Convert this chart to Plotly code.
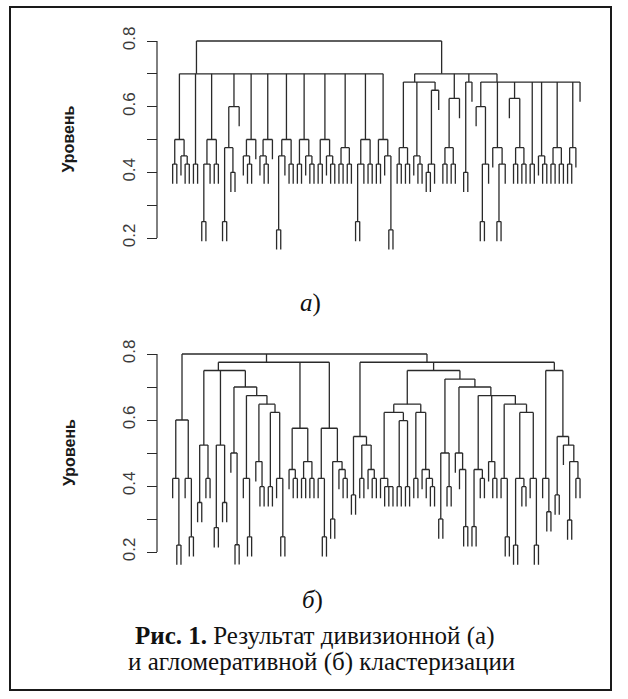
import itertools
import plotly.graph_objects as go

L = 0  # leaf marker; a node is [merge height, child, child, ...]

# ---------------- (а) divisive clustering ----------------
A1 = [0.5, [0.425, L, L], [0.45, L, [0.425, L, L]]]
A2 = [0.425, L, L]
A3 = [0.5, [0.425, [0.25, L, L], L], [0.425, L, L]]
A4 = [0.6, [0.475, [0.25, L, L], [0.4, L, L]], L]
A5 = [0.5, [0.45, L, [0.425, L, L]], L]
A6 = [0.5, [0.45, L, [0.425, L, L]], L]
A7 = [0.5, [0.45, [0.225, L, L], L], [0.425, L, L]]
A8 = [0.5, [0.425, L, L], [0.45, L, [0.425, L, L]]]
A9 = [0.5, [0.425, L, L], [0.45, L, [0.425, L, L]]]
A10 = [0.475, [0.425, L, L], [0.425, L, L]]
A11 = [0.5, [0.425, [0.25, L, L], L], [0.425, L, L]]
A12 = [0.5, [0.425, L, L], [0.45, L, [0.225, L, L]]]
B1 = [0.475, [0.425, L, L], [0.425, L, L]]
B2 = [0.45, L, [0.425, L, L]]
B3 = [0.65, [0.425, [0.4, L, L], L], L]
C1 = [0.625, [0.475, [0.425, L, L], [0.425, L, L]], L]
C2 = [0.675, [0.4, L, L], L]
D1 = [0.6, L, [0.425, [0.25, L, L], L]]
D2 = [0.475, L, [0.425, [0.25, L, L], L]]
D3 = [0.625, L, [0.475, [0.425, L, L], [0.425, L, L]]]
D4 = [0.425, L, L]
D5 = [0.45, L, [0.425, L, L]]
D6 = [0.475, [0.425, L, L], [0.425, L, L]]
D7 = [0.475, [0.425, L, L], L]
D8 = L
GROUP_A_LEFT = [0.7, A1, A2, A3, A4, A5, A6, A7, A8, A9, A10, A11, A12]
GROUP_B = [0.675, B1, B2, B3]
GROUP_D = [0.675, D1, D2, D3, D4, D5, D6, D7, D8]
GROUP_A_RIGHT = [0.7, GROUP_B, C1, C2, GROUP_D]
TREE_A = [0.8, GROUP_A_LEFT, GROUP_A_RIGHT]

# ---------------- (б) agglomerative clustering ----------------
E1 = [0.6, [0.423, L, [0.221, L, L]], [0.423, L, [0.246, L, L]]]
F1 = [0.524, [0.35, L, L], [0.423, L, L]]
F2 = [0.524, [0.274, L, L], [0.35, L, L]]
F3 = [0.7, [0.5, L, [0.222, L, L]],
      [0.674, [0.423, L, [0.246, L, L]],
       [0.648, [0.474, L, [0.398, L, L]],
        [0.623, [0.398, L, L], [0.423, L, [0.246, L, L]]]]]]
F = [0.75, F1, F2, F3]
G = [0.575, [0.45, L, [0.423, L, L]], [0.474, [0.423, L, L], [0.423, L, L]]]
H = [0.575, [0.423, L, [0.246, L, L]], [0.474, [0.30, L, L], [0.45, L, [0.423, L, L]]]]
X = [0.775, F, G, H]
P = [0.55, [0.373, L, L], [0.524, [0.423, L, L], [0.45, L, [0.423, L, L]]]]
Q1A = [0.623, [0.423, L, [0.398, L, L, L]], [0.598, [0.398, L, L], [0.398, L, L]]]
Q1B = [0.623, [0.423, L, L], [0.45, L, [0.423, L, [0.398, L, L]]]]
Q1 = [0.648, Q1A, Q1B]
Q2A = [0.5, [0.30, L, L], [0.398, L, L]]
Q2B_L = [0.5, L, [0.45, L, [0.277, L, L]]]
K1 = [0.45, [0.277, L, L], [0.423, L, L]]
K2 = [0.474, L, [0.423, L, L]]
K3 = [0.648, [0.423, L, [0.246, L, L]],
      [0.623, [0.423, [0.221, L, L], [0.398, L, L]], [0.423, L, [0.221, L, L]]]]
Q2B = [0.7, Q2B_L, [0.674, K1, K2, K3]]
Q2 = [0.724, Q2A, Q2B]
Q = [0.75, Q1, Q2]
R = [0.75, [0.423, L, [0.322, L, L]],
     [0.55, [0.373, L, L], [0.524, L, [0.474, [0.297, L, L], [0.423, L, L]]]]]
Y = [0.775, P, Q, R]
TREE_B = [0.8, E1, X, Y]

TICKS = [0.2, 0.3, 0.4, 0.5, 0.6, 0.7, 0.8]
TICK_LABELS = ["0.2", "", "0.4", "", "0.6", "", "0.8"]
HANG = 0.06

W, HGT = 628, 699
LINE = "#2a2a2a"


def place(node, seq, xs, ys):
    if not isinstance(node, list):
        return next(seq), None
    h, kids = node[0], node[1:]
    cx = []
    for k in kids:
        kx, ktop = place(k, seq, xs, ys)
        bottom = ktop if ktop is not None else h - HANG
        xs += [kx, kx, None]
        ys += [bottom, h, None]
        cx.append(kx)
    xs += [cx[0], cx[-1], None]
    ys += [h, h, None]
    pos = cx[-1]
    for xi in reversed(cx[:-1]):
        pos = (xi + pos) / 2
    return pos, h


def segments(tree):
    xs, ys = [], []
    place(tree, itertools.count(1), xs, ys)
    return xs, ys


fig = go.Figure()
for tree, xa, ya in [(TREE_A, "x", "y"), (TREE_B, "x2", "y2")]:
    sx, sy = segments(tree)
    fig.add_trace(go.Scatter(x=sx, y=sy, mode="lines", xaxis=xa, yaxis=ya,
                             line=dict(color=LINE, width=1.3),
                             hoverinfo="skip", showlegend=False))

# pixel placement of the two panels
AX_X = 157
X_LEFT, X_RIGHT = 168.5, 584.2
YR = [0.1, 0.85]


def ydom(y08, y02):
    ppu = (y02 - y08) / 0.6
    top = y08 - (YR[1] - 0.8) * ppu
    bot = y02 + (0.2 - YR[0]) * ppu
    return [1 - bot / HGT, 1 - top / HGT]


xdom = [X_LEFT / W, X_RIGHT / W]
yax = dict(range=YR, anchor="free", position=AX_X / W, tickmode="array",
           tickvals=TICKS, ticktext=TICK_LABELS, ticks="outside", ticklen=10,
           tickwidth=1.2, tickcolor=LINE, showline=False, showgrid=False,
           zeroline=False, tickangle=-90, ticklabelstandoff=5,
           tickfont=dict(family="Liberation Sans, Arial", size=17, color="#3a3a3a"))
xax = dict(range=[0, 100], domain=xdom, visible=False)

fig.update_layout(
    width=W, height=HGT, margin=dict(l=0, r=0, t=0, b=0),
    paper_bgcolor="white", plot_bgcolor="white",
    xaxis=dict(xax, anchor="y"), xaxis2=dict(xax, anchor="y2"),
    yaxis=dict(yax, domain=ydom(41, 238)),
    yaxis2=dict(yax, domain=ydom(354, 552)),
)

shapes = [dict(type="rect", xref="paper", yref="paper", x0=10 / W, x1=611 / W,
               y0=1 - 690 / HGT, y1=1 - 7 / HGT, line=dict(color="#1a1a1a", width=2))]
for yref in ["y", "y2"]:
    shapes.append(dict(type="line", xref="paper", yref=yref, x0=AX_X / W, x1=AX_X / W,
                       y0=min(TICKS), y1=max(TICKS), line=dict(color=LINE, width=1.2)))
fig.update_layout(shapes=shapes)

serif = "Liberation Serif, Times New Roman, serif"
ann = []
for yref in ["y", "y2"]:
    ann.append(dict(text="<b>Уровень</b>", xref="paper", yref=yref, x=69 / W, y=0.5,
                    textangle=-90, showarrow=False, xanchor="center", yanchor="middle",
                    font=dict(family="Liberation Sans, Arial", size=16, color="#1a1a1a")))
ann += [
    dict(text="<i>а</i>)", x=310 / W, y=1 - 303 / HGT, font=dict(family=serif, size=25, color="#111")),
    dict(text="<i>б</i>)", x=312 / W, y=1 - 600 / HGT, font=dict(family=serif, size=25, color="#111")),
    dict(text="<b>Рис. 1.</b> Результат дивизионной (а)", x=314 / W, y=1 - 636 / HGT,
         font=dict(family=serif, size=25, color="#111")),
    dict(text="и агломеративной (б) кластеризации", x=321 / W, y=1 - 662 / HGT,
         font=dict(family=serif, size=25, color="#111")),
]
for a in ann[2:]:
    a.update(xref="paper", yref="paper", showarrow=False, xanchor="center", yanchor="middle")
fig.update_layout(annotations=ann)

fig.write_html("out.html", config={"displayModeBar": False},
               post_script="document.body.style.margin='0';document.body.style.overflow='hidden';")
